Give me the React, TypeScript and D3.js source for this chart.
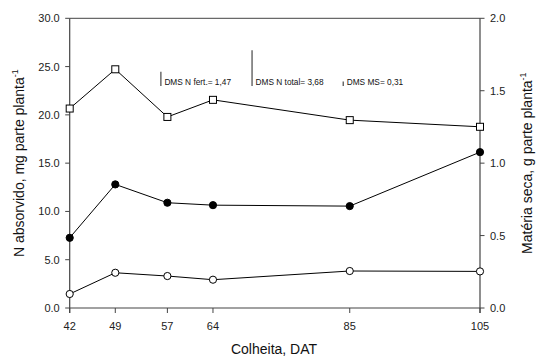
import React from "react";
import * as d3 from "d3";

const days = [42, 49, 57, 64, 85, 105];
const nTotal = [7.27, 12.8, 10.9, 10.65, 10.55, 16.14];
const nFert = [1.45, 3.65, 3.31, 2.93, 3.83, 3.79];
const ms = [1.377, 1.648, 1.319, 1.437, 1.297, 1.251];
const leftTicks = [0, 5, 10, 15, 20, 25, 30];
const rightTicks = [0, 0.5, 1.0, 1.5, 2.0];
const dmsLabels = ["DMS N fert.= 1,47", "DMS N total= 3,68", "DMS MS= 0,31"];
const dmsDays = [56, 70, 84];
const dmsBarLen = [1.47, 3.68, 0.45];
const dmsBase = 23.0;

const W = 538, H = 356;
const L = 69.7, R = 480, T = 18.3, B = 308;
const FONT = "'Liberation Sans', Arial, sans-serif";

export default function App() {
  const x = d3.scaleLinear().domain([42, 105]).range([L, R]);
  const yL = d3.scaleLinear().domain([0, 30]).range([B, T]);
  const yR = d3.scaleLinear().domain([0, 2]).range([B, T]);
  const lineL = d3.line<number>().x((_, i) => x(days[i])).y((d) => yL(d));
  const lineR = d3.line<number>().x((_, i) => x(days[i])).y((d) => yR(d));
  const axisCol = "#444";
  return (
    <svg width={W} height={H} style={{ position: "absolute", left: 0, top: 0, background: "#fff" }} fontFamily={FONT}>
      {/* frame */}
      <line x1={L} x2={R} y1={T} y2={T} stroke={axisCol} strokeWidth={1} />
      <line x1={L} x2={R} y1={B} y2={B} stroke={axisCol} strokeWidth={1.2} />
      <line x1={L} x2={L} y1={T} y2={B + 5} stroke={axisCol} strokeWidth={1.2} />
      <line x1={R} x2={R} y1={T} y2={B + 5} stroke={axisCol} strokeWidth={1.2} />
      {/* left ticks */}
      {leftTicks.map((t) => (
        <g key={"l" + t}>
          <line x1={L - 4.5} x2={L} y1={yL(t)} y2={yL(t)} stroke={axisCol} />
          <text x={L - 10} y={yL(t) + 4} textAnchor="end" fontSize={11} fill="#222">{t.toFixed(1)}</text>
        </g>
      ))}
      {rightTicks.map((t) => (
        <g key={"r" + t}>
          <line x1={R} x2={R + 4.5} y1={yR(t)} y2={yR(t)} stroke={axisCol} />
          <text x={R + 10} y={yR(t) + 4} textAnchor="start" fontSize={11} fill="#222">{t.toFixed(1)}</text>
        </g>
      ))}
      {days.map((d) => (
        <g key={"x" + d}>
          <line x1={x(d)} x2={x(d)} y1={B} y2={B + 5} stroke={axisCol} />
          <text x={x(d)} y={330} textAnchor="middle" fontSize={11} fill="#222">{d}</text>
        </g>
      ))}
      {/* axis titles */}
      <text x={274} y={354} textAnchor="middle" fontSize={14} fill="#111">Colheita, DAT</text>
      <text transform={`translate(24,${(T + B) / 2}) rotate(-90)`} textAnchor="middle" fontSize={14} fill="#111">
        N absorvido, mg parte planta<tspan fontSize={9} dy={-6}>-1</tspan>
      </text>
      <text transform={`translate(532,${(T + B) / 2}) rotate(-90)`} textAnchor="middle" fontSize={14} fill="#111">
        Matéria seca, g parte planta<tspan fontSize={9} dy={-6}>-1</tspan>
      </text>
      {/* DMS bars */}
      {dmsLabels.map((lab, i) => (
        <g key={lab}>
          <line x1={x(dmsDays[i])} x2={x(dmsDays[i])} y1={yL(dmsBase)} y2={yL(dmsBase + dmsBarLen[i])} stroke="#555" strokeWidth={1.3} />
          <text x={x(dmsDays[i]) + 3.5} y={yL(dmsBase) - 0.5} fontSize={8.3} fill="#111">{lab}</text>
        </g>
      ))}
      {/* lines */}
      <path d={lineR(ms) ?? ""} fill="none" stroke="#000" strokeWidth={1} />
      <path d={lineL(nTotal) ?? ""} fill="none" stroke="#000" strokeWidth={1} />
      <path d={lineL(nFert) ?? ""} fill="none" stroke="#000" strokeWidth={1} />
      {ms.map((v, i) => (
        <rect key={"s" + i} x={x(days[i]) - 3.5} y={yR(v) - 3.5} width={7} height={7} fill="#fff" stroke="#000" strokeWidth={1} />
      ))}
      {nTotal.map((v, i) => (
        <circle key={"t" + i} cx={x(days[i])} cy={yL(v)} r={3.6} fill="#000" stroke="#000" />
      ))}
      {nFert.map((v, i) => (
        <circle key={"f" + i} cx={x(days[i])} cy={yL(v)} r={3.6} fill="#fff" stroke="#000" />
      ))}
    </svg>
  );
}
